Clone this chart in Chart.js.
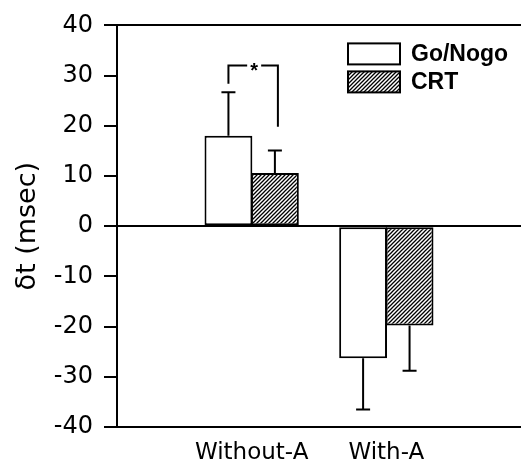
<!DOCTYPE html>
<html>
<head>
<meta charset="utf-8">
<title>δt by condition</title>
<script src="https://cdn.jsdelivr.net/npm/chart.js@4"></script>
<style>
    body { margin: 0; background: #fff; }
    #chart { display: block; }
</style>
</head>
<body>
<canvas id="chart" width="521" height="468"></canvas>
<script>
// Data
const categories = ['', 'Without-A', 'With-A', ''];
const goNogo = [null, 18.0, -26.3, null];
const crt = [null, 10.6, -19.8, null];
const goNogoErr = [null, 8.7, 10.2, null];
const crtErr = [null, 4.5, 9.0, null];
const yTicks = [-40, -30, -20, -10, 0, 10, 20, 30, 40];

// significance bracket between the two Without-A bars
const bracketTop = 32;
const bracketLeftEnd = 28.4;
const bracketRightEnd = 19.8;

function makeHatch() {
    const size = 4;
    const c = document.createElement('canvas');
    c.width = size;
    c.height = size;
    const g = c.getContext('2d');
    g.fillStyle = '#fff';
    g.fillRect(0, 0, size, size);
    g.strokeStyle = '#000';
    g.lineWidth = 1.3;
    g.beginPath();
    g.moveTo(0, size);
    g.lineTo(size, 0);
    g.moveTo(-1, 1);
    g.lineTo(1, -1);
    g.moveTo(size - 1, size + 1);
    g.lineTo(size + 1, size - 1);
    g.stroke();
    return g.createPattern(c, 'repeat');
}

const hatch = makeHatch();

const errorBars = {
    id: 'errorBars',
    afterDatasetsDraw(chart) {
        const ctx = chart.ctx;
        const y = chart.scales.y;
        const errs = [goNogoErr, crtErr];
        ctx.save();
        ctx.strokeStyle = '#000';
        ctx.lineWidth = 2;
        chart.data.datasets.forEach((ds, i) => {
            const meta = chart.getDatasetMeta(i);
            meta.data.forEach((bar, j) => {
                const v = ds.data[j];
                const e = errs[i][j];
                if (v === null || e === null) return;
                const tip = v >= 0 ? v + e : v - e;
                const y0 = y.getPixelForValue(v);
                const y1 = y.getPixelForValue(tip);
                ctx.beginPath();
                ctx.moveTo(bar.x, y0);
                ctx.lineTo(bar.x, y1);
                ctx.moveTo(bar.x - 7, y1);
                ctx.lineTo(bar.x + 7, y1);
                ctx.stroke();
            });
        });

        // bracket with star
        const left = chart.getDatasetMeta(0).data[1].x;
        const right = chart.getDatasetMeta(1).data[1].x + 3;
        const top = y.getPixelForValue(bracketTop);
        const mid = (left + right) / 2;
        ctx.beginPath();
        ctx.moveTo(left, y.getPixelForValue(bracketLeftEnd));
        ctx.lineTo(left, top);
        ctx.lineTo(mid - 6, top);
        ctx.moveTo(mid + 8, top);
        ctx.lineTo(right, top);
        ctx.lineTo(right, y.getPixelForValue(bracketRightEnd));
        ctx.stroke();
        ctx.fillStyle = '#000';
        ctx.font = 'bold 20px "Liberation Sans", Arial, sans-serif';
        ctx.textAlign = 'center';
        ctx.textBaseline = 'middle';
        ctx.fillText('*', mid + 1, top + 6);
        ctx.restore();
    }
};

const boxLegend = {
    id: 'boxLegend',
    afterDraw(chart) {
        const ctx = chart.ctx;
        const area = chart.chartArea;
        const x = area.left + 231;
        const items = [
            { label: 'Go/Nogo', fill: '#fff', top: area.top + 18 },
            { label: 'CRT', fill: hatch, top: area.top + 46 }
        ];
        ctx.save();
        ctx.lineWidth = 2;
        ctx.strokeStyle = '#000';
        ctx.font = 'bold 23px "Liberation Sans", Arial, sans-serif';
        ctx.textBaseline = 'middle';
        ctx.textAlign = 'left';
        items.forEach(item => {
            ctx.fillStyle = item.fill;
            ctx.fillRect(x, item.top, 52, 21);
            ctx.strokeRect(x, item.top, 52, 21);
            ctx.fillStyle = '#000';
            ctx.fillText(item.label, x + 63, item.top + 11);
        });
        ctx.restore();
    }
};

new Chart(document.getElementById('chart'), {
    type: 'bar',
    data: {
        labels: categories,
        datasets: [{
            label: 'Go/Nogo',
            data: goNogo,
            backgroundColor: '#fff',
            borderColor: '#000',
            borderWidth: 2,
            borderSkipped: false,
            categoryPercentage: 0.69,
            barPercentage: 1.03
        }, {
            label: 'CRT',
            data: crt,
            backgroundColor: hatch,
            borderColor: '#000',
            borderWidth: 2,
            borderSkipped: false,
            categoryPercentage: 0.69,
            barPercentage: 1.03
        }]
    },
    options: {
        responsive: false,
        animation: false,
        layout: {
            padding: { top: 20, right: -5, left: 0, bottom: 0 }
        },
        plugins: {
            legend: { display: false },
            tooltip: { enabled: false }
        },
        scales: {
            x: {
                offset: false,
                grid: { display: false, drawTicks: false },
                border: { display: true, color: '#000', width: 2 },
                ticks: {
                    color: '#000',
                    padding: 12,
                    maxRotation: 0,
                    autoSkip: false,
                    font: { family: '"DejaVu Sans", sans-serif', size: 23 }
                },
                afterFit(scale) {
                    scale.height = 41;
                    scale.paddingLeft = 0;
                    scale.paddingRight = 0;
                }
            },
            y: {
                min: -40,
                max: 40,
                afterBuildTicks(scale) {
                    scale.ticks = yTicks.map(v => ({ value: v }));
                },
                grid: {
                    color: ctx => (ctx.tick && (ctx.tick.value === 0 || ctx.tick.value === 40)) ? '#000' : 'rgba(0,0,0,0)',
                    lineWidth: 2,
                    tickColor: '#000',
                    tickWidth: 2,
                    tickLength: 13
                },
                border: { display: true, color: '#000', width: 2 },
                ticks: {
                    color: '#000',
                    padding: 11,
                    font: { family: '"DejaVu Sans", sans-serif', size: 24 }
                },
                title: {
                    display: true,
                    text: 'δt (msec)',
                    color: '#000',
                    padding: { top: 12, bottom: 0 },
                    font: { family: '"DejaVu Sans", sans-serif', size: 27 }
                },
                afterFit(scale) { scale.width = 117; }
            }
        }
    },
    plugins: [errorBars, boxLegend]
});
</script>
</body>
</html>
